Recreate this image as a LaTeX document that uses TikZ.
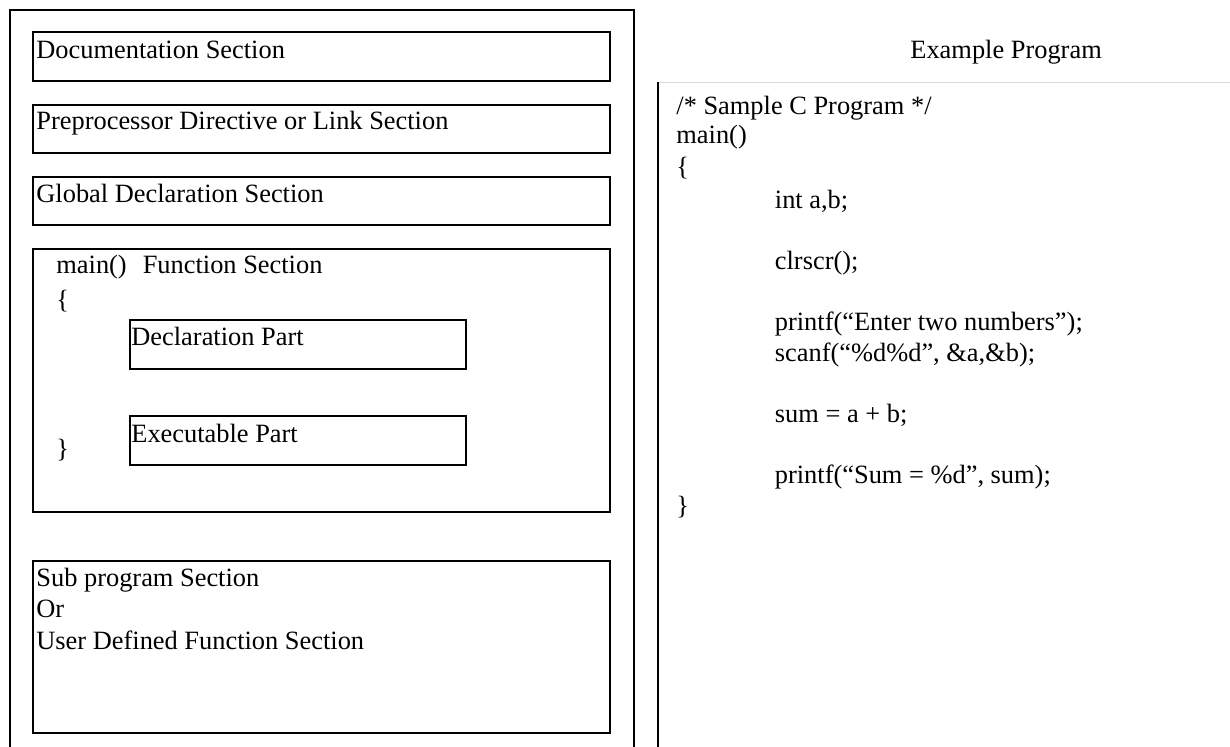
\documentclass[tikz,border=0pt]{standalone}
\usepackage{fontspec}
\setmainfont{Liberation Serif}
\usepackage{tikz}

\tikzset{
  secbox/.style={draw=black,line width=1pt},
  txt/.style={anchor=base west,inner sep=0pt,font=\fontsize{13.2}{15}\selectfont},
}

\begin{document}
\begin{tikzpicture}[x=0.5pt,y=-0.5pt]
\useasboundingbox (0,0) rectangle (1230,747);
% frames
\draw[black][line width=1pt](10,760) |- (634,10) -- (634,760);
\draw[black!15][line width=0.6pt](657,82.5) -- (1232,82.5);
\draw[black][line width=1pt](657.5,82.5) -- (657.5,760);
% left side: sections
\draw[secbox](33,32.5) rectangle (610,81);
\draw[secbox](33,105) rectangle (610,153);
\draw[secbox](33,177) rectangle (610,225.5);
\draw[secbox](33,249.5) rectangle (610,512.5);
\draw[secbox](129.5,320.5) rectangle (465.5,369);
\draw[secbox](129.5,416.5) rectangle (465.5,465);
\draw[secbox](33,561) rectangle (610,733);
\node (doc) at (36,59) [txt]{Documentation Section};
\node (pre) at (36,130) [txt]{Preprocessor Directive or Link Section};
\node (glob) at (36,203) [txt]{Global Declaration Section};
\node (mainsec) at (56,274) [txt]{main()\hspace{8pt}Function Section};
\node (mopen) at (56,309) [txt]{\{};
\node (decl) at (131,346) [txt]{Declaration Part};
\node (exec) at (131,442.5) [txt]{Executable Part};
\node (mclose) at (56,458) [txt]{\}};
\node (subp) at (36,586.5) [txt]{Sub program Section};
\node (subor) at (36,617.5) [txt]{Or};
\node (udf) at (36,649) [txt]{User Defined Function Section};
% right side: example program
\node (extitle) at (910,59) [txt]{Example Program};
\node (c0) at (676,115) [txt]{/* Sample C Program */};
\node (c1) at (676,144) [txt]{main()};
\node (c2) at (676,176) [txt]{\{};
\node (c3) at (774.5,208.5) [txt]{int a,b;};
\node (c5) at (774.5,269.7) [txt]{clrscr();};
\node (c7) at (774.5,330.9) [txt]{printf(“Enter two numbers”);};
\node (c8) at (774.5,361.5) [txt]{scanf(“\%d\%d”, \&a,\&b);};
\node (c10) at (774.5,422.7) [txt]{sum = a + b;};
\node (c12) at (774.5,483.9) [txt]{printf(“Sum = \%d”, sum);};
\node (c13) at (676,515) [txt]{\}};
\end{tikzpicture}
\end{document}
